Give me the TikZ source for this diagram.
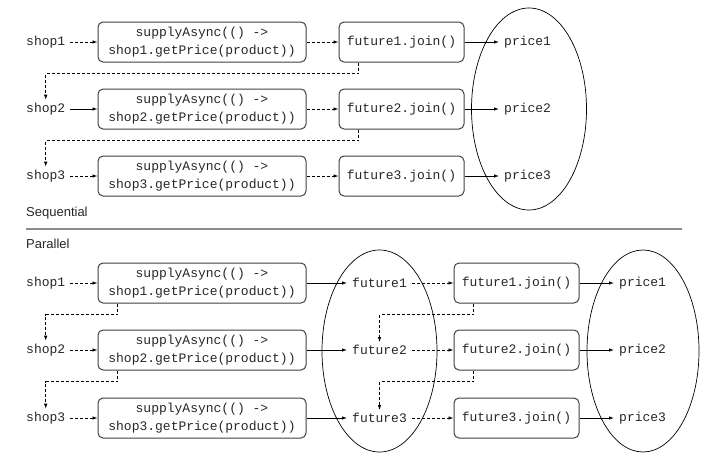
\documentclass[tikz,border=0pt]{standalone}
\usepackage{fontspec}
\setmainfont{Liberation Sans}
\setmonofont{Liberation Mono}
\usetikzlibrary{arrows.meta, positioning, shapes.geometric}

\begin{document}
\begin{tikzpicture}[
    x=1pt, y=-1pt,
    code/.style={font=\ttfamily\fontsize{13}{18}\selectfont, text=black!85},
    tag/.style={code, anchor=west, inner xsep=5pt, inner ysep=3pt},
    task/.style={code, draw=black!75, line width=1pt, rounded corners=5pt, align=center, minimum width=208pt, minimum height=40pt, inner sep=0pt},
    joinbox/.style={code, draw=black!75, line width=1pt, rounded corners=5pt, minimum width=125pt, minimum height=40pt, inner sep=0pt},
    ring/.style={ellipse, draw, line width=0.7pt, minimum width=115pt, minimum height=202pt, inner sep=0pt},
    heading/.style={anchor=west, inner sep=0pt, font=\fontsize{13}{15}\selectfont, text=black!85},
    flow/.style={-{Latex[length=5pt,width=3.5pt]}, line width=0.8pt},
    wait/.style={flow, dash pattern=on 3pt off 2pt}
]
\useasboundingbox (0,0) rectangle (711,455);

% ---------- Sequential ----------
\node (seqset) [ring] at (529,109) {};

\node (seqshop1) [tag] at (21,42) {shop1};
\node (seqtask1) [task] at (202,42) {supplyAsync(() ->\\shop1.getPrice(product))};
\node (seqjoin1) [joinbox] at (401.5,42) {future1.join()};
\node (seqprice1) [tag] at (499,42) {price1};

\node (seqshop2) [tag] at (21,109) {shop2};
\node (seqtask2) [task] at (202,109) {supplyAsync(() ->\\shop2.getPrice(product))};
\node (seqjoin2) [joinbox] at (401.5,109) {future2.join()};
\node (seqprice2) [tag] at (499,109) {price2};

\node (seqshop3) [tag] at (21,176) {shop3};
\node (seqtask3) [task] at (202,176) {supplyAsync(() ->\\shop3.getPrice(product))};
\node (seqjoin3) [joinbox] at (401.5,176) {future3.join()};
\node (seqprice3) [tag] at (499,176) {price3};

\draw [wait] (seqshop1) -- (seqtask1);
\draw [wait] (seqtask1) -- (seqjoin1);
\draw [flow] (seqjoin1) -- (seqprice1);
\draw [flow] (seqshop2) -- (seqtask2);
\draw [wait] (seqtask2) -- (seqjoin2);
\draw [flow] (seqjoin2) -- (seqprice2);
\draw [wait] (seqshop3) -- (seqtask3);
\draw [wait] (seqtask3) -- (seqjoin3);
\draw [flow] (seqjoin3) -- (seqprice3);

% wait for join, then next shop
\draw [wait] ([xshift=20pt]seqjoin1.south west) -- ++(0,11) -| (seqshop2.north);
\draw [wait] ([xshift=20pt]seqjoin2.south west) -- ++(0,11) -| (seqshop3.north);

% ---------- divider ----------
\node (seqhead) [heading] at (26,213) {Sequential};
\draw [line width=1.5pt, black!45] (26,229) -- (682,229);
\node (parhead) [heading] at (26,244) {Parallel};

% ---------- Parallel ----------
\node (parfutset) [ring] at (379.5,351) {};
\node (parpriceset) [ring, minimum width=112pt] at (643,351) {};

\node (parshop1) [tag] at (21,283) {shop1};
\node (partask1) [task] at (202,283) {supplyAsync(() ->\\shop1.getPrice(product))};
\node (parfut1) [tag] at (347,283) {future1};
\node (parjoin1) [joinbox] at (516.5,283) {future1.join()};
\node (parprice1) [tag] at (614,283) {price1};

\node (parshop2) [tag] at (21,350) {shop2};
\node (partask2) [task] at (202,350) {supplyAsync(() ->\\shop2.getPrice(product))};
\node (parfut2) [tag] at (347,350) {future2};
\node (parjoin2) [joinbox] at (516.5,350) {future2.join()};
\node (parprice2) [tag] at (614,350) {price2};

\node (parshop3) [tag] at (21,418) {shop3};
\node (partask3) [task] at (202,418) {supplyAsync(() ->\\shop3.getPrice(product))};
\node (parfut3) [tag] at (347,418) {future3};
\node (parjoin3) [joinbox] at (516.5,418) {future3.join()};
\node (parprice3) [tag] at (614,418) {price3};

\draw [wait] (parshop1) -- (partask1);
\draw [flow] (partask1) -- (parfut1);
\draw [wait] (parfut1) -- (parjoin1);
\draw [flow] (parjoin1) -- (parprice1);
\draw [wait] (parshop2) -- (partask2);
\draw [flow] (partask2) -- (parfut2);
\draw [wait] (parfut2) -- (parjoin2);
\draw [flow] (parjoin2) -- (parprice2);
\draw [wait] (parshop3) -- (partask3);
\draw [flow] (partask3) -- (parfut3);
\draw [wait] (parfut3) -- (parjoin3);
\draw [flow] (parjoin3) -- (parprice3);

% launch all tasks first, then join in order
\draw [wait] ([xshift=20pt]partask1.south west) -- ++(0,11) -| (parshop2.north);
\draw [wait] ([xshift=20pt]partask2.south west) -- ++(0,11) -| (parshop3.north);
\draw [wait] ([xshift=20pt]parjoin1.south west) -- ++(0,11) -| (parfut2.north);
\draw [wait] ([xshift=20pt]parjoin2.south west) -- ++(0,11) -| (parfut3.north);

\end{tikzpicture}
\end{document}
